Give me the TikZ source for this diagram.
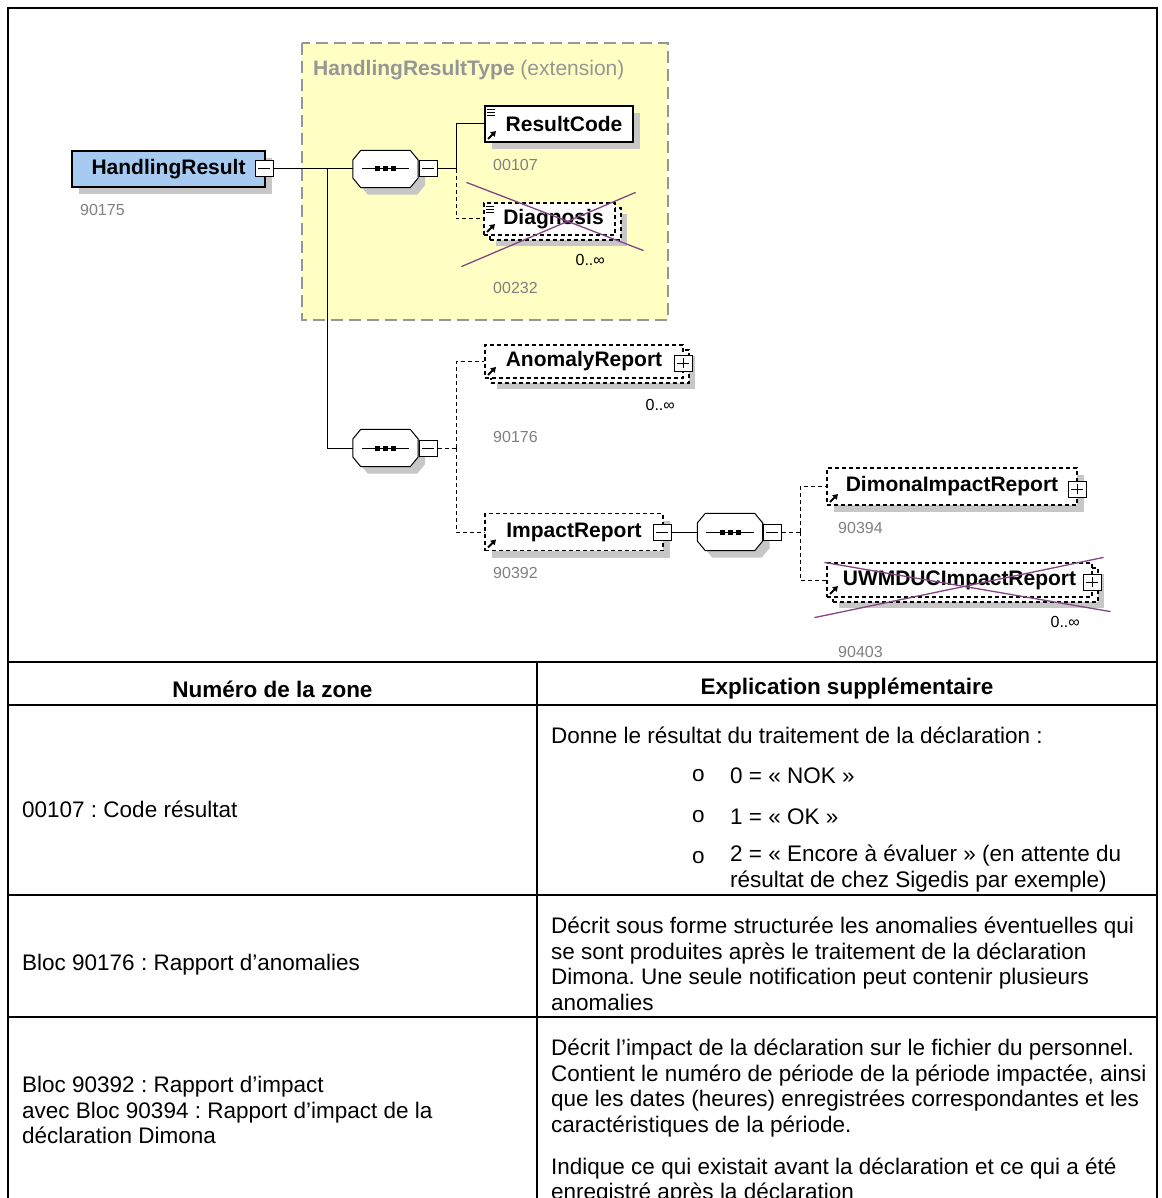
\documentclass[tikz,border=0pt]{standalone}
\usepackage{fontspec}
\setmainfont{Liberation Sans}
\usetikzlibrary{shadows,arrows.meta}
\frenchspacing
\definecolor{elemblue}{RGB}{166,202,240}
\definecolor{typeyellow}{RGB}{255,255,196}
\definecolor{typegray}{RGB}{150,150,150}
\definecolor{idgray}{RGB}{128,128,128}
\definecolor{crosspurple}{RGB}{130,70,130}
\newcommand{\tabfont}{\fontsize{22.5}{25.5}\selectfont}
\newcommand{\elfont}{\fontsize{21}{21}\selectfont}
\newcommand{\idfont}{\fontsize{16}{16}\selectfont}
% octagon of a sequence compositor, round a named node
\newcommand{\octpath}[1]{([yshift=9pt]#1.west) -- ([xshift=8pt]#1.north west) -- ([xshift=-8pt]#1.north east) -- ([yshift=9pt]#1.east) -- ([yshift=-9pt]#1.east) -- ([xshift=-8pt]#1.south east) -- ([xshift=8pt]#1.south west) -- ([yshift=-9pt]#1.west) -- cycle}
\newcommand{\seqbox}[1]{%
  \fill[black!22, transform canvas={shift={(7pt,-7pt)}}] \octpath{#1};
  \draw[fill=white, line width=1pt] \octpath{#1};
  \draw[line width=1pt] ([xshift=9pt]#1.west) -- ([xshift=-9pt]#1.east);
  \foreach \d in {-8,0,8}
    \fill ([xshift=\d pt]#1.center) +(-2.5pt,-2.5pt) rectangle +(2.5pt,2.5pt);
}
\tikzset{
  elembase/.style={draw, fill=white, line width=1.2pt, inner sep=0pt, font=\bfseries\elfont},
  elem/.style={elembase, drop shadow={fill=black!22, opacity=1, shadow xshift=7pt, shadow yshift=-7pt}},
  optelem/.style={elem, dash pattern=on 4pt off 3pt},
  multielem/.style={elembase, dash pattern=on 4pt off 3pt,
    drop shadow={fill=black!22, opacity=1, shadow xshift=12pt, shadow yshift=-11pt},
    copy shadow={draw, fill=white, dash pattern=on 4pt off 3pt, shadow xshift=6pt, shadow yshift=-5pt}},
  refmark/.style={path picture={
    \draw[solid, line width=1.8pt, -{Triangle[length=5pt,width=6pt]}]
      ([shift={(3pt,3pt)}]path picture bounding box.south west) -- ++(8pt,8pt);}},
  simplemark/.style={path picture={
    \draw[solid, line width=1.8pt, -{Triangle[length=5pt,width=6pt]}]
      ([shift={(3pt,3pt)}]path picture bounding box.south west) -- ++(8pt,8pt);
    \foreach \k in {3,6,9}
      \draw[solid, line width=.9pt] ([shift={(2pt,-\k pt)}]path picture bounding box.north west) -- ++(8pt,0pt);}},
  seqnode/.style={rectangle, minimum width=65pt, minimum height=37pt, inner sep=0pt},
  togglebox/.style={draw, fill=white, line width=1pt, minimum width=18pt, minimum height=16pt, inner sep=0pt},
  minusbox/.style={togglebox, path picture={
    \draw[solid] ([xshift=3pt]path picture bounding box.west) -- ([xshift=-3pt]path picture bounding box.east);}},
  plusbox/.style={togglebox, path picture={
    \draw[solid] ([xshift=3pt]path picture bounding box.west) -- ([xshift=-3pt]path picture bounding box.east);
    \draw[solid] ([yshift=-3pt]path picture bounding box.north) -- ([yshift=3pt]path picture bounding box.south);}},
  conn/.style={line width=1pt},
  optconn/.style={conn, dash pattern=on 4pt off 3pt},
  zid/.style={anchor=west, text=idgray, font=\idfont, inner sep=0pt},
  card/.style={anchor=east, font=\idfont, inner sep=0pt},
  crossout/.style={draw=crosspurple, line width=1.3pt},
  cell/.style={anchor=west, align=left, font=\tabfont, inner sep=0pt},
  headcell/.style={font=\bfseries\tabfont, inner sep=0pt},
  rule/.style={line width=2pt},
}
\begin{document}
\begin{tikzpicture}[x=1pt,y=-1pt]
\useasboundingbox (0,0) rectangle (1161,1198);
% complex type area
\draw[typegray, fill=typeyellow, line width=1.5pt, dash pattern=on 12pt off 6pt] (302,43) rectangle (668,320);
\node[anchor=west, inner sep=0pt, text=typegray, font=\elfont] (typename) at (313,70) {\textbf{HandlingResultType} (extension)};

% elements
\node[elem, fill=elemblue, minimum width=193pt, minimum height=36pt] (hr) at (168.5,169) {HandlingResult\hspace{14pt}};
\node[minusbox] (hrT) at (264,169) {};
\node[zid] (hrid) at (80,210) {90175};

\node[seqnode] (seqA) at (385.5,169) {};
\seqbox{seqA}
\node[minusbox] (seqAT) at (428,169) {};

\node[elem, simplemark, minimum width=148pt, minimum height=36pt] (code) at (559,124) {\hspace{10pt}ResultCode};
\node[zid] (codeid) at (493,165) {00107};

\node[multielem, simplemark, minimum width=131pt, minimum height=32pt] (diag) at (549.5,219) {\hspace{8pt}Diagnosis};
\node[card] (diagcard) at (605,260) {0..∞};
\node[zid] (diagid) at (493,288) {00232};
\draw[crossout] ([shift={(-22,31)}]diag.south west) -- ([shift={(20,-10)}]diag.north east);
\draw[crossout] ([shift={(-17,-20)}]diag.north west) -- ([shift={(28,15)}]diag.south east);

\node[seqnode] (seqB) at (385.5,448) {};
\seqbox{seqB}
\node[minusbox] (seqBT) at (428,448) {};

\node[multielem, refmark, minimum width=198pt, minimum height=33pt] (anomaly) at (584,361.5) {AnomalyReport\hspace{18pt}};
\node[plusbox] (anomalyT) at (683,363) {};
\node[card] (anomalycard) at (675,405) {0..∞};
\node[zid] (anomalyid) at (493,437) {90176};

\node[optelem, refmark, minimum width=178pt, minimum height=37pt] (impact) at (574,532) {ImpactReport\hspace{16pt}};
\node[minusbox] (impactT) at (662,532) {};
\node[zid] (impactid) at (493,573) {90392};

\node[seqnode] (seqC) at (730,532) {};
\seqbox{seqC}
\node[minusbox] (seqCT) at (772,532) {};

\node[optelem, refmark, minimum width=250pt, minimum height=37pt] (dimona) at (952,486.5) {DimonaImpactReport\hspace{18pt}};
\node[plusbox] (dimonaT) at (1077,489) {};
\node[zid] (dimonaid) at (838,528) {90394};

\node[multielem, refmark, minimum width=265pt, minimum height=34pt] (uwm) at (959.5,580) {UWMDUCImpactReport\hspace{18pt}};
\node[plusbox] (uwmT) at (1092,582) {};
\node[card] (uwmcard) at (1080,622) {0..∞};
\node[zid] (uwmid) at (838,652) {90403};
\draw[crossout] ([shift={(-12,20)}]uwm.south west) -- ([shift={(11,-5)}]uwm.north east);
\draw[crossout] ([shift={(-2,0)}]uwm.north west) -- ([shift={(18,14)}]uwm.south east);

% connectors
\coordinate (jA) at (327,169);
\coordinate (jB) at (456,169);
\coordinate (jC) at (456,448);
\coordinate (jD) at (800,532);
\draw[conn] (hrT.east) -- (seqA.west);
\draw[conn] (jA) |- (seqB.west);
\draw[conn] (seqAT.east) -- (jB) |- (code.west);
\draw[optconn] (jB) |- (diag.west);
\draw[optconn] (seqBT.east) -- (jC);
\draw[optconn] (jC) |- (anomaly.west);
\draw[optconn] (jC) |- (impact.west);
\draw[conn] (impactT.east) -- (seqC.west);
\draw[optconn] (seqCT.east) -- (jD);
\draw[optconn] (jD) |- (dimona.west);
\draw[optconn] (jD) |- (uwm.west);

% table
\draw[line width=2.5pt] (8,1210) -- (8,8) -- (1157,8) -- (1157,1210);
\draw[rule] (8,662) -- (1157,662);
\draw[rule] (8,705) -- (1157,705);
\draw[rule] (8,895) -- (1157,895);
\draw[rule] (8,1017) -- (1157,1017);
\draw[rule] (537,662) -- (537,1210);

\node[headcell] (headzone) at (272.5,689) {Numéro de la zone};
\node[headcell] (headexpl) at (847,689) {Explication supplémentaire};

\node[cell] (zone1) at (22,809) {00107 : Code résultat};
\node[cell] (expl1) at (551,735) {Donne le résultat du traitement de la déclaration :};
\node[cell] (bul1) at (692,776) {o};
\node[cell] (item1) at (730,776) {0 = « NOK »};
\node[cell] (bul2) at (692,817) {o};
\node[cell] (item2) at (730,817) {1 = « OK »};
\node[cell] (bul3) at (692,858) {o};
\node[cell, anchor=north west] (item3) at (730,845) {2 = « Encore à évaluer » (en attente du\\résultat de chez Sigedis par exemple)};

\node[cell] (zone2) at (22,965) {Bloc 90176 : Rapport d’anomalies};
\node[cell] (expl2) at (551,964) {Décrit sous forme structurée les anomalies éventuelles qui\\se sont produites après le traitement de la déclaration\\Dimona. Une seule notification peut contenir plusieurs\\anomalies};

\node[cell] (zone3) at (22,1110) {Bloc 90392 : Rapport d’impact\\avec Bloc 90394 : Rapport d’impact de la\\déclaration Dimona};
\node[cell] (expl3) at (551,1088) {Décrit l’impact de la déclaration sur le fichier du personnel.\\Contient le numéro de période de la période impactée, ainsi\\que les dates (heures) enregistrées correspondantes et les\\caractéristiques de la période.};
\node[cell] (expl3b) at (551,1181) {Indique ce qui existait avant la déclaration et ce qui a été\\enregistré après la déclaration};
\end{tikzpicture}
\end{document}
